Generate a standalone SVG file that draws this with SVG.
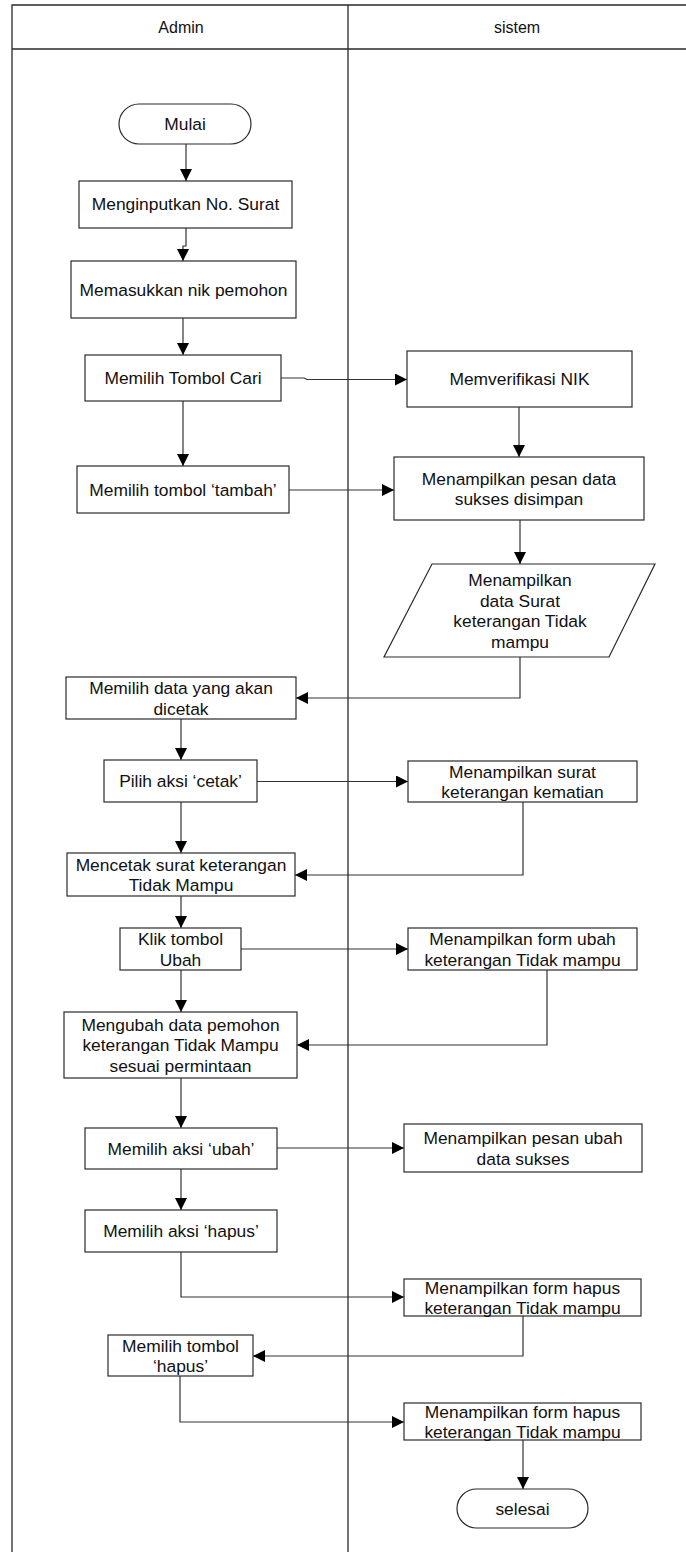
<svg xmlns="http://www.w3.org/2000/svg" width="686" height="1552" viewBox="0 0 686 1552">
<style>
text{font-family:"Liberation Sans",Arial,sans-serif;font-size:17.4px;fill:#111;text-anchor:middle}
.hd{font-size:16px}
.box{fill:#fff;stroke:#2a2a2a;stroke-width:1.2}
.lane{fill:none;stroke:#2a2a2a;stroke-width:1.3}
.c{fill:none;stroke:#333;stroke-width:1.2}
</style>
<defs>
<marker id="ah" markerUnits="userSpaceOnUse" markerWidth="12" markerHeight="12" refX="12" refY="6" orient="auto">
<path d="M0,0 L12,6 L0,12 z" fill="#000"/>
</marker>
</defs>
<rect width="686" height="1552" fill="#fff"/>
<g id="lanes">
<path class="lane" d="M12,1552 V5 H686 M12,49 H686 M348,5 V1552"/>
<text class="hd" x="181" y="33">Admin</text>
<text class="hd" x="517" y="33">sistem</text>
</g>
<g id="connectors">
<path class="c" d="M186,144 V181" marker-end="url(#ah)"/>
<path class="c" d="M186,228 V246 H183 V261" marker-end="url(#ah)"/>
<path class="c" d="M183,318 V355" marker-end="url(#ah)"/>
<path class="c" d="M281,378 H304 L307,379.5 H407" marker-end="url(#ah)"/>
<path class="c" d="M183,401 V466" marker-end="url(#ah)"/>
<path class="c" d="M519,407 V457" marker-end="url(#ah)"/>
<path class="c" d="M289,490 H394" marker-end="url(#ah)"/>
<path class="c" d="M520,520 V564" marker-end="url(#ah)"/>
<path class="c" d="M520,657 V698 H296" marker-end="url(#ah)"/>
<path class="c" d="M181,719 V760" marker-end="url(#ah)"/>
<path class="c" d="M257,781.5 H408" marker-end="url(#ah)"/>
<path class="c" d="M181,802 V853" marker-end="url(#ah)"/>
<path class="c" d="M523,802 V875 H295" marker-end="url(#ah)"/>
<path class="c" d="M181,896 V928" marker-end="url(#ah)"/>
<path class="c" d="M241,949 H408" marker-end="url(#ah)"/>
<path class="c" d="M181,970 V1012" marker-end="url(#ah)"/>
<path class="c" d="M547,970 V1045 H297" marker-end="url(#ah)"/>
<path class="c" d="M181,1078 V1128" marker-end="url(#ah)"/>
<path class="c" d="M277,1148 H404" marker-end="url(#ah)"/>
<path class="c" d="M181,1169 V1210" marker-end="url(#ah)"/>
<path class="c" d="M181,1252 V1297 H404" marker-end="url(#ah)"/>
<path class="c" d="M523,1316 V1356 H253" marker-end="url(#ah)"/>
<path class="c" d="M180,1376 V1422 H404" marker-end="url(#ah)"/>
<path class="c" d="M523,1440 V1489" marker-end="url(#ah)"/>
</g>
<g id="mulai"><rect class="box" x="119" y="104" width="132" height="40" rx="20"/><text x="185" y="130">Mulai</text></g>
<g id="b1"><rect class="box" x="79" y="181" width="213" height="47"/><text x="185.5" y="210">Menginputkan No. Surat</text></g>
<g id="b2"><rect class="box" x="71" y="261" width="225" height="57"/><text x="183.5" y="295.5">Memasukkan nik pemohon</text></g>
<g id="b3"><rect class="box" x="85" y="355" width="196" height="46"/><text x="183" y="384">Memilih Tombol Cari</text></g>
<g id="b4"><rect class="box" x="77" y="466" width="212" height="47"/><text x="183" y="495.5">Memilih tombol ‘tambah’</text></g>
<g id="b5"><rect class="box" x="66" y="677" width="230" height="42"/><text x="181" y="694">Memilih data yang akan</text><text x="181" y="714.5">dicetak</text></g>
<g id="b6"><rect class="box" x="104" y="760" width="153" height="42"/><text x="180.5" y="787">Pilih aksi ‘cetak’</text></g>
<g id="b7"><rect class="box" x="67" y="853" width="228" height="43"/><text x="181" y="870.5">Mencetak surat keterangan</text><text x="181" y="891">Tidak Mampu</text></g>
<g id="b8"><rect class="box" x="120" y="928" width="121" height="42"/><text x="180.5" y="945">Klik tombol</text><text x="180.5" y="965.5">Ubah</text></g>
<g id="b9"><rect class="box" x="64" y="1012" width="233" height="66"/><text x="180.5" y="1030.5">Mengubah data pemohon</text><text x="180.5" y="1051">keterangan Tidak Mampu</text><text x="180.5" y="1071.5">sesuai permintaan</text></g>
<g id="b10"><rect class="box" x="85" y="1128" width="192" height="41"/><text x="181" y="1154.5">Memilih aksi ‘ubah’</text></g>
<g id="b11"><rect class="box" x="85" y="1210" width="192" height="42"/><text x="181" y="1237">Memilih aksi ‘hapus’</text></g>
<g id="b12"><rect class="box" x="108" y="1335" width="145" height="41"/><text x="180.5" y="1351.5">Memilih tombol</text><text x="180.5" y="1372">‘hapus’</text></g>
<g id="s1"><rect class="box" x="407" y="351" width="225" height="56"/><text x="519.5" y="385">Memverifikasi NIK</text></g>
<g id="s2"><rect class="box" x="394" y="457" width="250" height="63"/><text x="519" y="484.5">Menampilkan pesan data</text><text x="519" y="505">sukses disimpan</text></g>
<g id="s3"><path class="box" d="M432,564 H655 L609,657 H384 Z"/><text x="520" y="586">Menampilkan</text><text x="520" y="606.5">data Surat</text><text x="520" y="627">keterangan Tidak</text><text x="520" y="647.5">mampu</text></g>
<g id="s4"><rect class="box" x="408" y="761" width="229" height="41"/><text x="522.5" y="777.5">Menampilkan surat</text><text x="522.5" y="798">keterangan kematian</text></g>
<g id="s5"><rect class="box" x="408" y="928" width="229" height="42"/><text x="522.5" y="945">Menampilkan form ubah</text><text x="522.5" y="965.5">keterangan Tidak mampu</text></g>
<g id="s6"><rect class="box" x="404" y="1124" width="238" height="48"/><text x="523" y="1144">Menampilkan pesan ubah</text><text x="523" y="1164.5">data sukses</text></g>
<g id="s7"><rect class="box" x="404" y="1279" width="237" height="37"/><text x="522.5" y="1293.5">Menampilkan form hapus</text><text x="522.5" y="1314">keterangan Tidak mampu</text></g>
<g id="s8"><rect class="box" x="404" y="1403" width="237" height="37"/><text x="522.5" y="1417.5">Menampilkan form hapus</text><text x="522.5" y="1438">keterangan Tidak mampu</text></g>
<g id="selesai"><rect class="box" x="457" y="1489" width="131" height="39" rx="19.5"/><text x="522.5" y="1514.5">selesai</text></g>
</svg>
